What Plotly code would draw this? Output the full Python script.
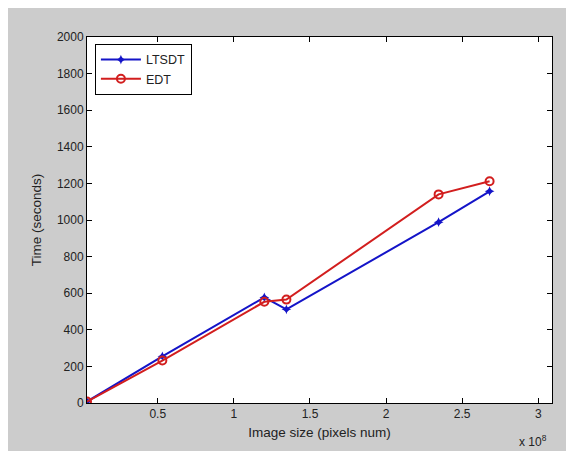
import plotly.graph_objects as go

# Data (x in pixels, y in seconds)
image_size = [0.035e8, 0.53e8, 1.20e8, 1.345e8, 2.345e8, 2.68e8]
ltsdt_time = [8, 255, 577, 512, 988, 1157]
edt_time = [8, 232, 553, 565, 1140, 1212]

x_tick_vals = [0.5e8, 1.0e8, 1.5e8, 2.0e8, 2.5e8, 3.0e8]
x_tick_text = ["0.5", "1", "1.5", "2", "2.5", "3"]
y_tick_vals = [0, 200, 400, 600, 800, 1000, 1200, 1400, 1600, 1800, 2000]

FONT = "Liberation Sans, Arial, sans-serif"
GRAY = "#cccccc"
TXT = "#222222"

fig = go.Figure()
fig.add_trace(go.Scatter(
    x=image_size, y=ltsdt_time, name="LTSDT", mode="lines+markers",
    line=dict(color="#1414c8", width=2),
    marker=dict(symbol="star-diamond", size=7, color="#1414c8"),
))
fig.add_trace(go.Scatter(
    x=image_size, y=edt_time, name="EDT", mode="lines+markers",
    line=dict(color="#d21e1e", width=2),
    marker=dict(symbol="circle-open", size=8, color="#d21e1e", line=dict(width=2)),
))

# page body has an 8px margin, so figure is slightly smaller than the window
W, H = 566, 443
L, R, T, B = 79, 544, 29, 395
pw, ph = R - L, B - T

axis_common = dict(
    showline=True, linecolor="black", linewidth=1, mirror="ticks",
    ticks="inside", ticklen=5, tickcolor="black", showgrid=False, zeroline=False,
    tickfont=dict(family=FONT, size=12, color=TXT),
)

fig.update_layout(
    width=W, height=H,
    margin=dict(l=L, r=W - R, t=T, b=H - B),
    paper_bgcolor=GRAY, plot_bgcolor="white",
    font=dict(family=FONT, size=12, color=TXT),
    xaxis=dict(range=[0.035e8, 3.09e8], tickvals=x_tick_vals, ticktext=x_tick_text,
               title=dict(text="Image size (pixels num)", standoff=7,
                          font=dict(family=FONT, size=13.5, color=TXT)),
               **axis_common),
    yaxis=dict(range=[0, 2000], tickvals=y_tick_vals,
               title=dict(text="Time (seconds)", standoff=12,
                          font=dict(family=FONT, size=13.5, color=TXT)),
               **axis_common),
    legend=dict(x=0.017, y=0.981, xanchor="left", yanchor="top",
                bgcolor="white", bordercolor="black", borderwidth=1,
                font=dict(family=FONT, size=12.5, color=TXT),
                itemwidth=40, tracegroupgap=0),
    showlegend=True,
    annotations=[dict(text="x 10<sup>8</sup>", xref="paper", yref="paper",
                      x=(525 - L) / pw, y=(B - 433) / ph, showarrow=False,
                      xanchor="center", yanchor="middle",
                      font=dict(family=FONT, size=12, color=TXT))],
)

fig.write_html("out.html")
